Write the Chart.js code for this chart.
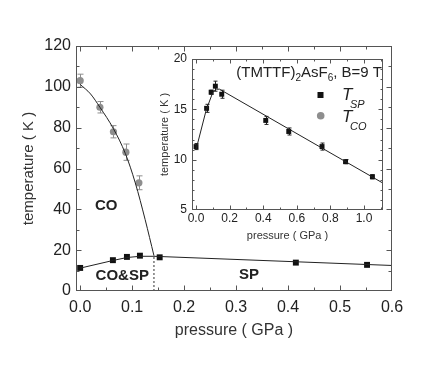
<!DOCTYPE html>
<html><head><meta charset="utf-8">
<script src="https://cdn.jsdelivr.net/npm/chart.js@4"></script>
<style>
html,body{margin:0;padding:0;background:#fff;overflow:hidden}
#wrap{position:relative;width:436px;height:367px}
canvas{position:absolute}
#main{left:0;top:0}
#inset{left:140px;top:40px}
</style></head><body>
<div id="wrap"><canvas id="main" width="436" height="367"></canvas><canvas id="inset" width="260" height="210"></canvas></div>
<script>
// ---- data ----
const tcoPressure = [0.0, 0.038, 0.064, 0.088, 0.113];
const tcoTemp     = [103, 90, 78, 68, 53];
const tcoErr      = [3.2, 2.8, 3.0, 4.0, 3.4];

const tspPressure = [0.0, 0.063, 0.09, 0.115, 0.153, 0.415, 0.552, 0.75, 0.89, 1.05];
const tspTemp     = [11.3, 15.1, 16.7, 17.3, 16.5, 13.9, 12.8, 11.3, 9.8, 8.3];
const tspErr      = [0.3, 0.4, 0.2, 0.5, 0.4, 0.4, 0.35, 0.35, 0.2, 0.2];
const mainTspCount = 7;

const coFitP = [0.0, 0.02, 0.038, 0.064, 0.087, 0.106, 0.125, 0.142];
const coFitT = [101.2, 96.5, 90, 79.5, 67.3, 53, 35, 17.3];

const spFitMainP = [0.0, 0.064, 0.09, 0.115, 0.142, 0.6];
const spFitMainT = [11.2, 15.0, 16.4, 17.0, 17.0, 12.5];

const spFitInsetP = [0.0, 0.06, 0.1, 0.12, 0.14, 1.12];
const spFitInsetT = [11.0, 14.9, 16.7, 17.0, 17.0, 7.6];

const boundaryP = [0.142, 0.142];
const boundaryT = [0, 17.3];

const mainXTicks = [0, 0.1, 0.2, 0.3, 0.4, 0.5, 0.6];
const mainYTicks = [0, 20, 40, 60, 80, 100, 120];
const insetXTicks = [0, 0.2, 0.4, 0.6, 0.8, 1.0];
const insetYTicks = [5, 10, 15, 20];

const phaseLabels = [
  {text: 'CO', p: 0.05, t: 41.5},
  {text: 'CO&SP', p: 0.081, t: 7.5},
  {text: 'SP', p: 0.325, t: 7.8}
];

// ---- helpers ----
const FAM = '"Liberation Sans", Arial, Helvetica, sans-serif';
const pts = (xs, ys) => xs.map((x, i) => ({x, y: ys[i]}));
const range = (a, b, s) => { const r = []; for (let v = a; v <= b + 1e-9; v += s) r.push(+v.toFixed(6)); return r; };

const framePlugin = {
  id: 'frame',
  beforeDatasetsDraw(chart, args, o) {
    const {ctx, scales: {x, y}} = chart;
    ctx.save();
    (o.errorBars || []).forEach(eb => {
      ctx.strokeStyle = eb.color; ctx.lineWidth = 1;
      eb.p.forEach((p, i) => {
        const px = Math.round(x.getPixelForValue(p)) + 0.5;
        const y1 = y.getPixelForValue(eb.t[i] + eb.e[i]);
        const y2 = y.getPixelForValue(eb.t[i] - eb.e[i]);
        ctx.beginPath();
        ctx.moveTo(px, y1); ctx.lineTo(px, y2);
        ctx.moveTo(px - eb.cap, y1); ctx.lineTo(px + eb.cap, y1);
        ctx.moveTo(px - eb.cap, y2); ctx.lineTo(px + eb.cap, y2);
        ctx.stroke();
      });
    });
    ctx.restore();
  },
  afterDatasetsDraw(chart, args, o) {
    const {ctx, chartArea: a, scales: {x, y}} = chart;
    ctx.save();
    ctx.strokeStyle = o.color; ctx.lineWidth = 1;
    const L = Math.round(a.left) + 0.5, R = Math.round(a.right) - 0.5;
    const T = Math.round(a.top) + 0.5, B = Math.round(a.bottom) - 0.5;
    ctx.strokeRect(L, T, R - L, B - T);
    ctx.beginPath();
    const xt = (vals, len) => vals.forEach(v => {
      const px = Math.round(x.getPixelForValue(v)) + 0.5;
      if (px < L || px > R) return;
      ctx.moveTo(px, B); ctx.lineTo(px, B - len);
      ctx.moveTo(px, T); ctx.lineTo(px, T + len);
    });
    const yt = (vals, len) => vals.forEach(v => {
      const py = Math.round(y.getPixelForValue(v)) + 0.5;
      if (py < T || py > B) return;
      ctx.moveTo(L, py); ctx.lineTo(L + len, py);
      ctx.moveTo(R, py); ctx.lineTo(R - len, py);
    });
    xt(o.xMajor, o.major); xt(o.xMinor, o.minor);
    yt(o.yMajor, o.major); yt(o.yMinor, o.minor);
    ctx.stroke();
    (o.labels || []).forEach(l => {
      ctx.font = 'bold 15px ' + FAM; ctx.fillStyle = '#222';
      ctx.textAlign = 'center'; ctx.textBaseline = 'middle';
      ctx.fillText(l.text, x.getPixelForValue(l.p), y.getPixelForValue(l.t));
    });
    if (o.legend) o.legend(ctx);
    ctx.restore();
  }
};

const scaleX = (min, max, ticks, fmt, size, pad, h, title, tsize, tpad) => ({
  type: 'linear', min, max,
  grid: {display: false, drawTicks: false}, border: {display: false},
  afterBuildTicks: s => { s.ticks = ticks.map(v => ({value: v})); },
  afterFit: s => { s.height = h; },
  ticks: {callback: fmt, font: {family: FAM, size}, color: '#222', padding: pad, maxRotation: 0, autoSkip: false},
  title: {display: true, text: title, font: {family: FAM, size: tsize}, color: '#333', padding: {top: 0, bottom: tpad}}
});
const scaleY = (min, max, ticks, fmt, size, pad, w, title, tsize, tpad) => ({
  type: 'linear', min, max,
  grid: {display: false, drawTicks: false}, border: {display: false},
  afterBuildTicks: s => { s.ticks = ticks.map(v => ({value: v})); },
  afterFit: s => { s.width = w; },
  ticks: {callback: fmt, font: {family: FAM, size}, color: '#222', padding: pad, autoSkip: false},
  title: {display: true, text: title, font: {family: FAM, size: tsize}, color: '#333', padding: {top: tpad, bottom: 0}}
});

// ---- main chart ----
new Chart(document.getElementById('main'), {
  type: 'scatter',
  data: {datasets: [
    {data: pts(coFitP, coFitT), showLine: true, borderColor: '#222', borderWidth: 1, pointRadius: 0, cubicInterpolationMode: 'monotone'},
    {data: pts(spFitMainP, spFitMainT), showLine: true, borderColor: '#222', borderWidth: 1, pointRadius: 0, tension: 0},
    {data: pts(boundaryP, boundaryT), showLine: true, borderColor: '#333', borderWidth: 1, borderDash: [2, 2], pointRadius: 0},
    {data: pts(tcoPressure, tcoTemp), pointStyle: 'circle', pointRadius: 3.6, backgroundColor: '#8e8e8e', borderColor: '#8e8e8e', borderWidth: 0},
    {data: pts(tspPressure.slice(0, mainTspCount), tspTemp.slice(0, mainTspCount)), pointStyle: 'rect', pointRadius: 4.2, backgroundColor: '#111', borderColor: '#111', borderWidth: 0}
  ]},
  options: {
    responsive: false, animation: false, devicePixelRatio: 1,
    layout: {padding: {left: 0, top: 46, right: 44, bottom: 0}},
    plugins: {legend: {display: false}, tooltip: {enabled: false},
      frame: {color: '#555', major: 5, minor: 3,
        xMajor: mainXTicks, xMinor: range(0.05, 0.55, 0.1),
        yMajor: mainYTicks, yMinor: range(10, 110, 20),
        errorBars: [{p: tcoPressure, t: tcoTemp, e: tcoErr, color: '#8e8e8e', cap: 3}],
        labels: phaseLabels}},
    scales: {
      x: scaleX(-0.008, 0.6, mainXTicks, v => v.toFixed(1), 16, 7, 76, 'pressure ( GPa )', 16, 27),
      y: scaleY(0, 120, mainYTicks, v => String(v), 16, 5, 76, 'temperature ( K )', 15, 20)
    }
  },
  plugins: [framePlugin]
});

// ---- inset chart ----
function insetLegend(ctx) {
  ctx.fillStyle = '#222'; ctx.textBaseline = 'alphabetic'; ctx.textAlign = 'left';
  const parts = [
    {t: '(TMTTF)', f: '15px ' + FAM, dy: 0}, {t: '2', f: '10px ' + FAM, dy: 4},
    {t: 'AsF', f: '15px ' + FAM, dy: 0}, {t: '6', f: '10px ' + FAM, dy: 4},
    {t: ', B=9 T', f: '15px ' + FAM, dy: 0}
  ];
  let w = 0;
  parts.forEach(p => { ctx.font = p.f; w += ctx.measureText(p.t).width; });
  let x0 = 242 - w;
  parts.forEach(p => { ctx.font = p.f; ctx.fillText(p.t, x0, 37 + p.dy); x0 += ctx.measureText(p.t).width; });
  // markers
  ctx.fillStyle = '#111'; ctx.fillRect(177.5, 52, 6, 6);
  ctx.fillStyle = '#8e8e8e'; ctx.beginPath(); ctx.arc(180.7, 75.7, 3.8, 0, Math.PI * 2); ctx.fill();
  ctx.fillStyle = '#222';
  ctx.font = 'italic 17px ' + FAM; ctx.fillText('T', 202, 60);
  ctx.font = 'italic 11px ' + FAM; ctx.fillText('SP', 210, 68);
  ctx.font = 'italic 17px ' + FAM; ctx.fillText('T', 202, 82);
  ctx.font = 'italic 11px ' + FAM; ctx.fillText('CO', 210, 90);
}

new Chart(document.getElementById('inset'), {
  type: 'scatter',
  data: {datasets: [
    {data: pts(spFitInsetP, spFitInsetT), showLine: true, borderColor: '#222', borderWidth: 1, pointRadius: 0, tension: 0},
    {data: pts(tspPressure, tspTemp), pointStyle: 'rect', pointRadius: 3.5, backgroundColor: '#111', borderColor: '#111', borderWidth: 0}
  ]},
  options: {
    responsive: false, animation: false, devicePixelRatio: 1,
    layout: {padding: {left: 0, top: 19, right: 17, bottom: 0}},
    plugins: {legend: {display: false}, tooltip: {enabled: false},
      frame: {color: '#555', major: 4, minor: 2,
        xMajor: insetXTicks, xMinor: range(0.1, 1.1, 0.2),
        yMajor: insetYTicks, yMinor: [6, 7, 8, 9, 11, 12, 13, 14, 16, 17, 18, 19],
        errorBars: [{p: tspPressure, t: tspTemp, e: tspErr, color: '#222', cap: 2}],
        legend: insetLegend}},
    scales: {
      x: scaleX(-0.024, 1.113, insetXTicks, v => v.toFixed(1), 12, 1, 40, 'pressure ( GPa )', 11, 7),
      y: scaleY(5, 20, insetYTicks, v => String(v), 12, 5, 52, 'temperature ( K )', 11, 18)
    }
  },
  plugins: [framePlugin]
});
</script>
</body></html>
